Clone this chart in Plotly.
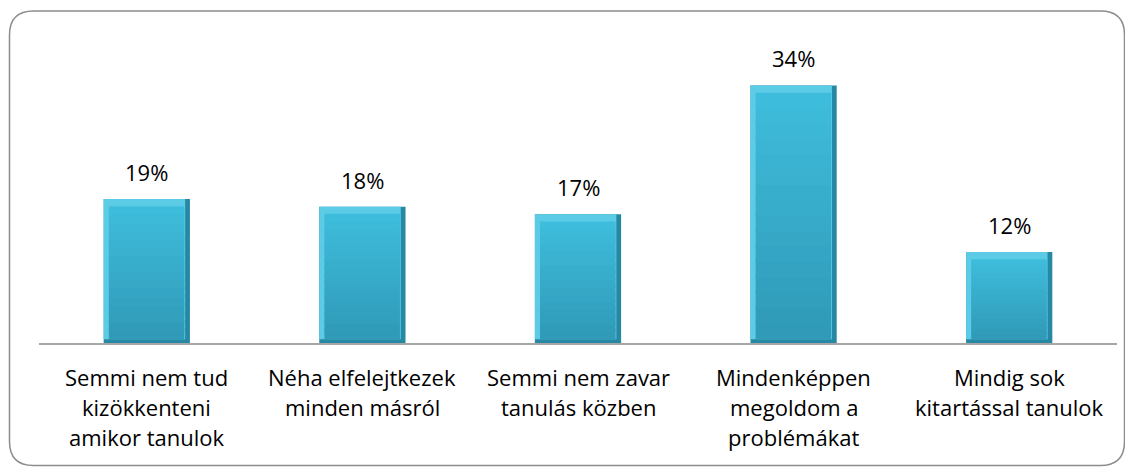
import plotly.graph_objects as go

# ---- data ----
categories = [
    ["Semmi nem tud", "kizökkenteni", "amikor tanulok"],
    ["Néha elfelejtkezek", "minden másról"],
    ["Semmi nem zavar", "tanulás közben"],
    ["Mindenképpen", "megoldom a", "problémákat"],
    ["Mindig sok", "kitartással tanulok"],
]
values = [19, 18, 17, 34, 12]
value_labels = ["19%", "18%", "17%", "34%", "12%"]

# ---- layout constants (pixels, figure coordinates; page body has 8px margin) ----
OFF = 8
W, H = 1133 - OFF, 469 - OFF
L, T = 39 - OFF, 40 - OFF
R = W - (1117 - OFF)
B = H - (343 - OFF)
PW, PH = W - L - R, H - T - B
FONT = "Open Sans"
FS = 22

idx = list(range(len(values)))
bw = 0.4
fig = go.Figure()
# dark edge layer (full bar)
fig.add_trace(go.Bar(x=idx, y=values, width=bw, marker=dict(color="#2788A4", line=dict(width=0)),
                     hoverinfo="skip", showlegend=False))
# light bevel layer
fig.add_trace(go.Bar(x=idx, y=[v - 0.5 for v in values], base=[0.5] * len(values),
                     width=bw - 0.022, offset=-bw / 2,
                     marker=dict(color="#5BCBE6", line=dict(width=0)), hoverinfo="skip", showlegend=False))


# body layer with vertical gradient (light top -> darker bottom), drawn as overlapping slices
def mix(c1, c2, t):
    a = [int(c1[i:i + 2], 16) for i in (1, 3, 5)]
    b = [int(c2[i:i + 2], 16) for i in (1, 3, 5)]
    return "#" + "".join(f"{round(a[i] + (b[i] - a[i]) * t):02x}" for i in range(3))


TOP_C, BOT_C = "#3FBDDC", "#2F99B7"
N = 16
body_h = [v - 1.45 for v in values]
for k in range(N):
    frac = (k + 0.5) / N
    extra = 0.35 if k < N - 1 else 0.0
    fig.add_trace(go.Bar(
        x=idx,
        y=[h / N + extra for h in body_h],
        base=[0.5 + h * k / N for h in body_h],
        width=bw - 0.05, offset=-bw / 2 + 0.024,
        marker=dict(color=mix(BOT_C, TOP_C, frac), line=dict(width=0)),
        hoverinfo="skip", showlegend=False))

annotations = []
for i, (v, lab) in enumerate(zip(values, value_labels)):
    annotations.append(dict(x=i, y=v, xref="x", yref="y", text=lab, showarrow=False,
                            yanchor="middle", yshift=27, font=dict(family=FONT, size=FS, color="#000")))
for i, lines in enumerate(categories):
    for j, line in enumerate(lines):
        annotations.append(dict(x=i, y=0, xref="x", yref="paper", text=line, showarrow=False,
                                yanchor="middle", yshift=-(34 + 30 * j),
                                font=dict(family=FONT, size=FS, color="#000")))

# rounded frame in paper coordinates (given in screen pixels)
def px2x(px):
    return (px - OFF - L) / PW
def py2y(py):
    return (H - B - (py - OFF)) / PH

x0, x1, y0, y1, r = 9.5, 1124.5, 11, 465.5, 24
path = (
    f"M {px2x(x0 + r)},{py2y(y0)} L {px2x(x1 - r)},{py2y(y0)} "
    f"Q {px2x(x1)},{py2y(y0)} {px2x(x1)},{py2y(y0 + r)} "
    f"L {px2x(x1)},{py2y(y1 - r)} Q {px2x(x1)},{py2y(y1)} {px2x(x1 - r)},{py2y(y1)} "
    f"L {px2x(x0 + r)},{py2y(y1)} Q {px2x(x0)},{py2y(y1)} {px2x(x0)},{py2y(y1 - r)} "
    f"L {px2x(x0)},{py2y(y0 + r)} Q {px2x(x0)},{py2y(y0)} {px2x(x0 + r)},{py2y(y0)} Z"
)

fig.update_layout(
    width=W, height=H,
    margin=dict(l=L, r=R, t=T, b=B),
    paper_bgcolor="white", plot_bgcolor="white",
    barmode="overlay",
    showlegend=False,
    xaxis=dict(range=[-0.5, len(values) - 0.5], showticklabels=False, showgrid=False, zeroline=False,
               showline=True, linecolor="#A6A6A6", linewidth=1.5, ticks=""),
    yaxis=dict(range=[0, 40], visible=False, showgrid=False, zeroline=False),
    annotations=annotations,
    shapes=[dict(type="path", path=path, xref="paper", yref="paper",
                 line=dict(color="#8C8C8C", width=1.5), fillcolor="rgba(0,0,0,0)", layer="below")],
    font=dict(family=FONT, size=FS, color="#000"),
)

fig.write_html("out.html")
